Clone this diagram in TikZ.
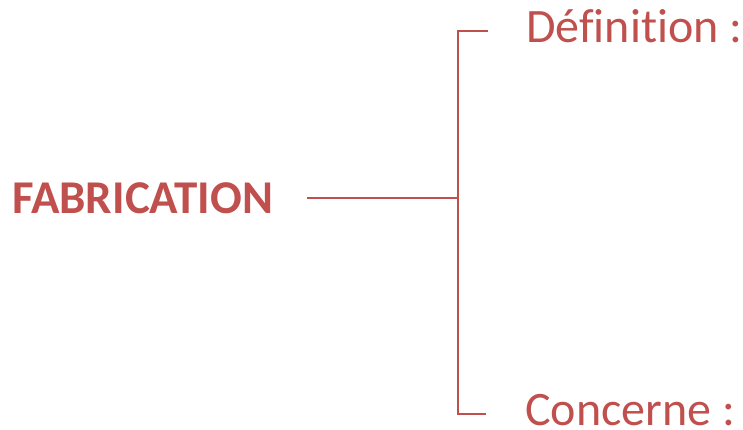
\documentclass[tikz,border=0pt]{standalone}
\usepackage{fontspec}
\setmainfont{Carlito}[Ligatures=NoCommon]
\definecolor{accent}{HTML}{C0504D}
\begin{document}
\begin{tikzpicture}[x=1pt,y=1pt,
  lbl/.style={text=accent,inner sep=0pt,anchor=base west,font=\fontsize{48}{52}\selectfont},
  link/.style={draw=accent,line width=1.4pt}]
\useasboundingbox (0,0) rectangle (743,429);
\node[lbl,font=\fontsize{47}{50}\selectfont\bfseries] (fab) at (12,216) {FABRICATION};
\node[lbl] (def) at (526,386) {Définition :};
\node[lbl] (con) at (525,4) {Concerne :};
\coordinate (ms) at (307,231);
\coordinate (mj) at (458,231);
\coordinate (tj) at (458,398);
\coordinate (te) at (488,398);
\coordinate (bj) at (458,15);
\coordinate (be) at (486,15);
\draw[link] (ms) -- (mj);
\draw[link] (te) -- (tj) -- (bj) -- (be);
\end{tikzpicture}
\end{document}
